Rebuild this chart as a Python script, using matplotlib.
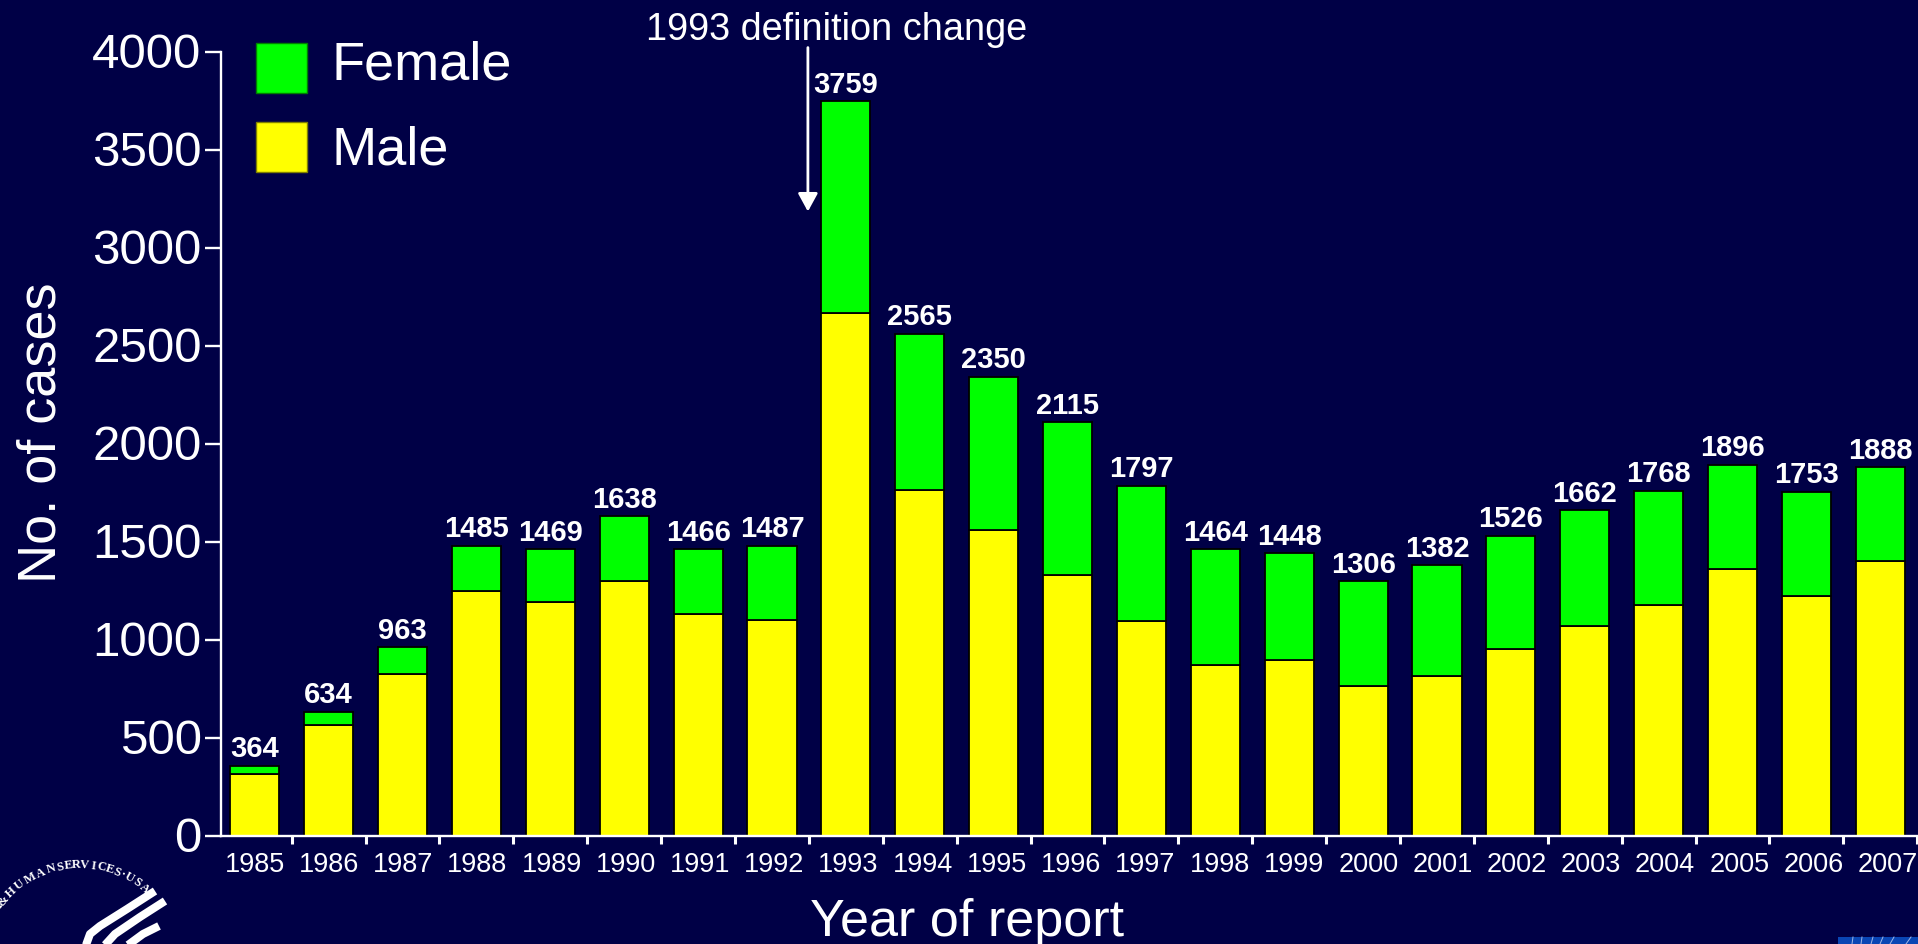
import numpy as np
import matplotlib
matplotlib.use("Agg")
import matplotlib.pyplot as plt
from matplotlib.patches import Rectangle, PathPatch
from matplotlib.path import Path
from matplotlib.transforms import Affine2D, ScaledTranslation

# =========================
# Data
# =========================

years = [1985, 1986, 1987, 1988, 1989, 1990, 1991, 1992, 1993, 1994, 1995, 1996,
         1997, 1998, 1999, 2000, 2001, 2002, 2003, 2004, 2005, 2006, 2007]
# printed above the bars
totals = [364, 634, 963, 1485, 1469, 1638, 1466, 1487, 3759, 2565, 2350, 2115,
          1797, 1464, 1448, 1306, 1382, 1526, 1662, 1768, 1896, 1753, 1888]
male = [315, 564, 826, 1250, 1194, 1300, 1132, 1101, 2666, 1762, 1562, 1331,
        1094, 870, 895, 764, 814, 951, 1069, 1176, 1363, 1225, 1400]
female = [43, 69, 137, 231, 268, 330, 330, 380, 1081, 798, 779, 779,
          692, 592, 548, 536, 567, 579, 592, 585, 529, 530, 480]

y_ticks = [0, 500, 1000, 1500, 2000, 2500, 3000, 3500, 4000]

seal_chars = list("H&HUMANSERVICES·USA")
seal_angles = [-55, -50, -43.8, -37, -30, -23.2, -16.4, -11.4, -6.7, -2, 2.8, 7.5, 12.2, 17,
               21.8, 25.6, 29.5, 34.7, 40]

BG = "#000046"
W, H = 1918, 945

plt.rcParams["font.family"] = ["Liberation Sans", "DejaVu Sans"]


def px_box(left, top, right, bottom):
    return [left / W, 1 - bottom / H, (right - left) / W, (bottom - top) / H]


fig = plt.figure(figsize=(W / 100, H / 100), dpi=100, facecolor=BG)
ax = fig.add_axes(px_box(221, 52.5, 1918, 837))
ax.set_facecolor(BG)

x = np.arange(len(years))
bars_m = ax.bar(x, male, 0.665, color="#ffff00", edgecolor="black", linewidth=1.3,
                label="Male", zorder=2)
bars_f = ax.bar(x, female, 0.665, bottom=male, color="#00ff00", edgecolor="black",
                linewidth=1.3, label="Female", zorder=2)
for t in ax.bar_label(bars_f, labels=[str(v) for v in totals], padding=2.5, color="white",
                      fontsize=21, fontweight="bold"):
    t.set_clip_on(False)

ax.set_xlim(-0.457, 22.51)
ax.set_ylim(0, 4000)

for s in ["top", "right"]:
    ax.spines[s].set_visible(False)
for s in ["left", "bottom"]:
    ax.spines[s].set_color("white")
    ax.spines[s].set_linewidth(1.7)
    ax.spines[s].set_zorder(3)

ax.set_yticks(y_ticks)
ax.tick_params(axis="y", colors="white", labelsize=35.5, length=11.5, width=1.7, pad=2.5)
up = ScaledTranslation(0, 1.5 / 72, fig.dpi_scale_trans)
for t in ax.get_yticklabels():
    t.set_transform(t.get_transform() + up)

# year labels drift a little to the right of the bars in the original
ax.set_xticks(x * 1.0046)
ax.set_xticklabels(years)
ax.tick_params(axis="x", which="major", colors="white", labelsize=19.5, length=0, pad=10.5)
ax.set_xticks(x + 0.5, minor=True)
ax.tick_params(axis="x", which="minor", colors="white", length=5.5, width=2.2)

ax.set_ylabel("No. of cases", color="white", fontsize=39)
ax.yaxis.set_label_coords((67 - 221) / 1697, (837 - 433) / 784.5)
ax.set_xlabel("Year of report", color="white", fontsize=37.5)
ax.xaxis.set_label_coords((967 - 221) / 1697, (837 - 898) / 784.5)

# legend
handles, labels = ax.get_legend_handles_labels()
leg = ax.legend(handles[::-1], labels[::-1], loc="upper left", frameon=False, fontsize=39,
                bbox_to_anchor=(256 / W, 1 - 44 / H), bbox_transform=fig.transFigure,
                borderaxespad=0, borderpad=0, handlelength=0.94, handleheight=1.05,
                handletextpad=0.46, labelspacing=0.45)
for p, c in zip(leg.get_patches(), ["#008000", "#808000"]):
    p.set_edgecolor(c)
    p.set_linewidth(1.0)
for t, dy in zip(leg.get_texts(), [8, 2]):
    t.set_color("white")
    t.set_y(dy)

# 1993 definition change
ax.annotate("", xy=(7.486, 3184), xytext=(7.486, 4020), annotation_clip=False,
            arrowprops=dict(arrowstyle="-|>,head_length=0.55,head_width=0.3", color="white",
                            lw=2.0, shrinkA=0, shrinkB=0, mutation_scale=20))
ax.text(7.87, 4115, "1993 definition change", color="white", fontsize=27.3, ha="center",
        va="center", clip_on=False)

# department seal, bottom left corner (pixel coordinates, y down)
px = Affine2D().scale(1, -1).translate(0, H)
cx, cy, r = 80, 965, 97
for ch, a in zip(seal_chars, seal_angles):
    rad = np.radians(a)
    fig.text(cx + r * np.sin(rad), cy - r * np.cos(rad), ch, transform=px, color="white",
             fontsize=9, fontfamily="Liberation Serif", fontweight="bold", ha="center",
             va="baseline", rotation=-a, rotation_mode="anchor")

stripes = [
    [(155, 892), (127, 910), (100, 927), (90, 935), (86, 946)],
    [(165, 902), (140, 918), (115, 935), (105, 946)],
    [(159, 927), (143, 935), (128, 946)],
]
for pts in stripes:
    codes = [Path.MOVETO] + [Path.LINETO] * (len(pts) - 1)
    fig.add_artist(PathPatch(Path(pts, codes), transform=px, fill=False, edgecolor="white",
                             linewidth=5.8, capstyle="butt", joinstyle="round"))

# blue corner strip, bottom right
fig.add_artist(Rectangle((1838, 938), 80, 7, transform=px, facecolor="#0a46b4", edgecolor="none"))
for xs, lean in zip([1852, 1861, 1871, 1880, 1890, 1906], [1, 1, 2, 3, 4, 5]):
    fig.add_artist(plt.Line2D([xs, xs + lean], [945, 938], transform=px, color="#9fb6e6", linewidth=0.7))

fig.savefig("out.png", dpi=100, facecolor=BG)
